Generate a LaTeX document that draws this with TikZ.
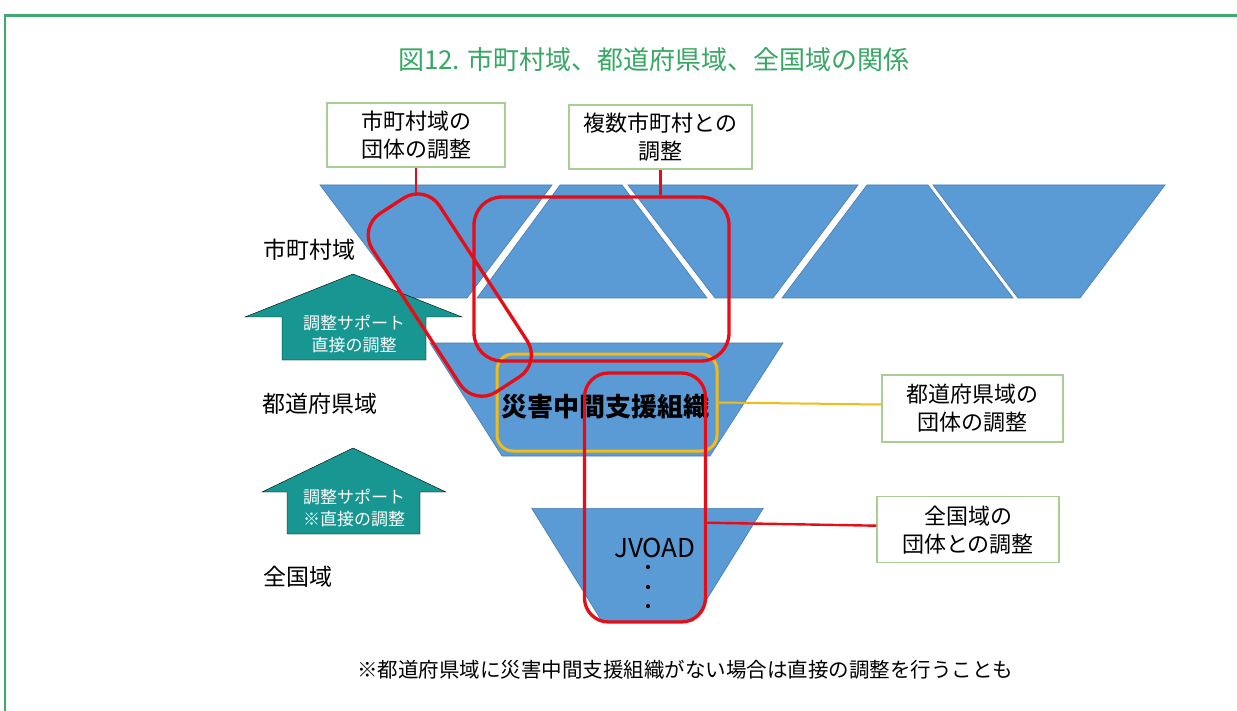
\documentclass[tikz,border=0pt]{standalone}
\usepackage{fontspec}
\setmainfont{Noto Sans CJK JP}
\usetikzlibrary{calc}
\definecolor{frameg}{RGB}{62,170,112}
\definecolor{titleg}{RGB}{55,168,100}
\definecolor{blueshape}{RGB}{91,155,213}
\definecolor{blueedge}{RGB}{72,122,180}
\definecolor{tealarrow}{RGB}{24,150,145}
\definecolor{boxedge}{RGB}{168,206,150}
\definecolor{loopred}{RGB}{232,12,22}
\definecolor{loopyellow}{RGB}{244,186,24}
\begin{document}
\begin{tikzpicture}[x=1pt,y=-1pt,
  region/.style={fill=blueshape,draw=blueedge,line width=0.6pt},
  supportarrow/.style={fill=tealarrow},
  labelbox/.style={draw=boxedge,line width=1.5pt,fill=white,align=center,inner sep=0pt,font=\fontsize{22}{28}\selectfont},
  levellabel/.style={anchor=west,inner sep=0pt,font=\fontsize{23}{28}\selectfont},
  arrowtext/.style={text=white,align=center,inner sep=0pt,font=\fontsize{17}{22}\selectfont},
  redloop/.style={draw=loopred,line width=3.3pt,inner sep=0pt},
  yellowloop/.style={draw=loopyellow,line width=3pt,inner sep=0pt},
  redlink/.style={draw=loopred,line width=2.4pt},
  yellowlink/.style={draw=loopyellow,line width=2pt},
]
\useasboundingbox (0,0) rectangle (1237,711);
\fill[white] (0,0) rectangle (1237,711);
% frame
\draw[frameg,line width=2.5pt] (5,712) -- (5,15.5) -- (1238,15.5);
\node[text=titleg,inner sep=0pt,font=\fontsize{26}{30}\selectfont] (title) at (654,60) {図12. 市町村域、都道府県域、全国域の関係};

% municipal level shapes
\draw[region] (320,185) -- (552,185) -- (467,298) -- (405,298) -- cycle;
\draw[region] (560,185) -- (622,185) -- (707,298) -- (477,298) -- cycle;
\draw[region] (628,185) -- (858,185) -- (773,298) -- (715,298) -- cycle;
\draw[region] (867,185) -- (928,185) -- (1013,298) -- (782,298) -- cycle;
\draw[region] (933,185) -- (1165,185) -- (1080,298) -- (1018,298) -- cycle;
% prefecture level
\draw[region] (430,343) -- (783,343) -- (710,456) -- (502,456) -- cycle;
% national level
\draw[region] (531.7,508.3) -- (763.3,508.3) -- (693.3,621) -- (601.7,621) -- cycle;

% support arrows
\draw[supportarrow] (353,274) -- (462,317) -- (426,317) -- (426,360) -- (282,360) -- (282,317) -- (245,317) -- cycle;
\draw[supportarrow] (353,448) -- (446,492) -- (420,492) -- (420,534) -- (287,534) -- (287,492) -- (262,492) -- cycle;
\node[arrowtext] (arr1) at (354,334) {調整サポート\\直接の調整};
\node[arrowtext] (arr2) at (354,508) {調整サポート\\※直接の調整};

% level labels
\node[levellabel] (lvA) at (263,250) {市町村域};
\node[levellabel] (lvB) at (262,404) {都道府県域};
\node[levellabel] (lvC) at (263,577) {全国域};

% inner texts
\node[inner sep=0pt,font=\fontsize{26}{30}\selectfont\bfseries] (npo) at (605,407) {災害中間支援組織};
\node[inner sep=0pt,font=\fontsize{26}{30}\selectfont] (jvoad) at (655,548) {JVOAD};
\fill (648,567) circle (2.1) (648,587) circle (2.1) (648,606) circle (2.1);

% loops
\node[yellowloop,rounded corners=16pt,minimum width=220pt,minimum height=97pt] (yloop) at (607,402.5) {};
\node[redloop,rounded corners=26pt,minimum width=213pt,minimum height=80pt,rotate=-57] (loopA) at (449.8,295.1) {};
\node[redloop,rounded corners=28pt,minimum width=255pt,minimum height=164pt] (loopB) at (601.5,279) {};
\node[redloop,rounded corners=24pt,minimum width=121pt,minimum height=249pt] (loopC) at (645,497.5) {};

% label boxes
\node[labelbox,minimum width=178pt,minimum height=64pt] (boxA) at (416,135) {市町村域の\\団体の調整};
\node[labelbox,minimum width=183pt,minimum height=64pt] (boxB) at (660.5,137) {複数市町村との\\調整};
\node[labelbox,minimum width=181pt,minimum height=67pt] (boxC) at (972.3,408.5) {都道府県域の\\団体の調整};
\node[labelbox,minimum width=182pt,minimum height=66pt] (boxD) at (968,529.7) {全国域の\\団体との調整};

% connectors
\coordinate (aTop) at (416,195);
\coordinate (cSide) at (705.5,522.7);
\draw[redlink] (boxA.south) -- (aTop);
\draw[redlink] (boxB.south) -- (boxB.south |- loopB.north);
\draw[yellowlink] (yloop.east) -- ($(boxC.west)+(0,-4)$);
\draw[redlink] (cSide) -- ($(boxD.west)+(0,-4)$);

% note
\node[inner sep=0pt,font=\fontsize{20.5}{24}\selectfont] (note) at (685,670) {※都道府県域に災害中間支援組織がない場合は直接の調整を行うことも};
\end{tikzpicture}
\end{document}
